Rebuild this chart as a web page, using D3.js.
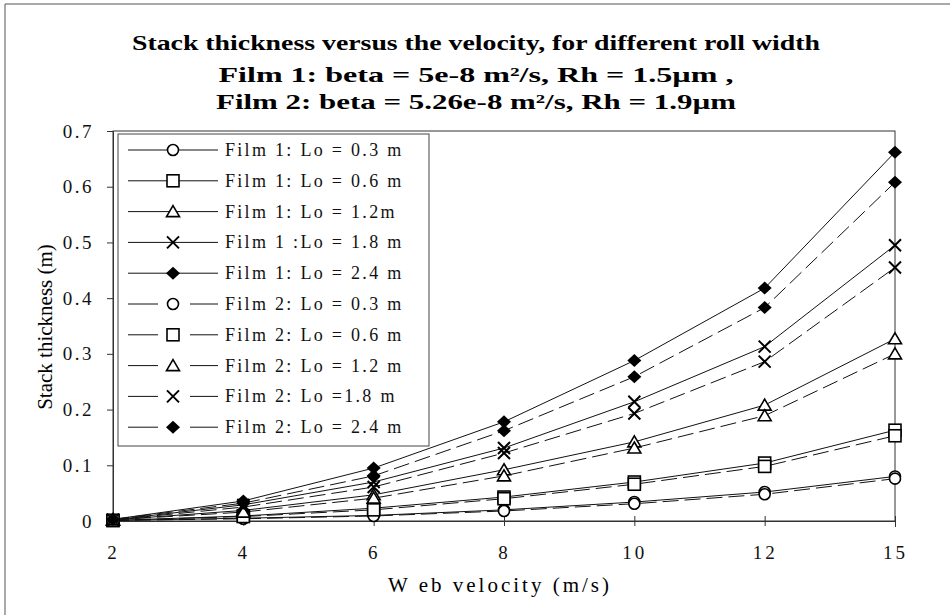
<!DOCTYPE html>
<html><head><meta charset="utf-8">
<script src="https://cdn.jsdelivr.net/npm/d3@7"></script>
<style>body{margin:0;background:#fff}svg{display:block}</style>
</head><body>
<svg id="c" width="950" height="615"></svg>
<script>
const velocities = ["2","4","6","8","10","12","15"];
const yTicks = [0,0.1,0.2,0.3,0.4,0.5,0.6,0.7];
const seriesNames = ["Film 1: Lo = 0.3 m","Film 1: Lo = 0.6 m","Film 1: Lo = 1.2m","Film 1 :Lo = 1.8 m","Film 1: Lo = 2.4 m",
  "Film 2: Lo = 0.3 m","Film 2: Lo = 0.6 m","Film 2: Lo = 1.2 m","Film 2: Lo =1.8 m","Film 2: Lo = 2.4 m"];
const f1_03 = [0.001,0.005,0.010,0.020,0.034,0.052,0.080];
const f1_06 = [0.001,0.009,0.023,0.043,0.070,0.104,0.163];
const f1_12 = [0.002,0.019,0.047,0.092,0.142,0.208,0.327];
const f1_18 = [0.002,0.029,0.070,0.131,0.214,0.313,0.495];
const f1_24 = [0.003,0.036,0.095,0.178,0.288,0.418,0.662];
const f2_03 = [0.001,0.004,0.009,0.018,0.031,0.048,0.076];
const f2_06 = [0.001,0.008,0.020,0.040,0.066,0.098,0.153];
const f2_12 = [0.002,0.016,0.041,0.081,0.131,0.189,0.300];
const f2_18 = [0.002,0.025,0.061,0.122,0.193,0.286,0.455];
const f2_24 = [0.003,0.032,0.081,0.162,0.259,0.383,0.608];
const seriesValues = [f1_03,f1_06,f1_12,f1_18,f1_24,f2_03,f2_06,f2_12,f2_18,f2_24];
const markers = ["circle","square","triangle","cross","diamond","circle","square","triangle","cross","diamond"];

const svg = d3.select("#c");
const L=113, R=895, T=131, B=521;
const x = d3.scalePoint().domain(velocities).range([L,R]).padding(0);
const y = d3.scaleLinear().domain([0,0.7]).range([B,T]);
const serif = "'Liberation Serif','Times New Roman',serif";

// outer frame
svg.append("line").attr("x1",5).attr("x2",5).attr("y1",4).attr("y2",615).attr("stroke","#555").attr("stroke-width",1);
svg.append("line").attr("x1",5).attr("x2",950).attr("y1",4).attr("y2",4).attr("stroke","#555").attr("stroke-width",1);

// title
const titles = [["Stack thickness versus the  velocity, for different roll width",50,688],
  ["Film 1:  beta = 5e-8 m\u00b2/s, Rh = 1.5\u00b5m ,",82,515],
  ["Film 2:  beta = 5.26e-8 m\u00b2/s, Rh = 1.9\u00b5m",109,520]];
titles.forEach(t=>{
  svg.append("text").attr("x",476).attr("y",t[1]).attr("text-anchor","middle")
    .attr("font-family",serif).attr("font-weight","bold").attr("font-size",21)
    .attr("textLength",t[2]).attr("lengthAdjust","spacingAndGlyphs").text(t[0]);
});

// plot box
svg.append("rect").attr("x",L).attr("y",T).attr("width",R-L).attr("height",B-T)
  .attr("fill","none").attr("stroke","#333").attr("stroke-width",1);

// y axis
const ya = svg.append("g").attr("transform",`translate(${L},0)`)
  .call(d3.axisLeft(y).tickValues(yTicks).tickSize(6).tickFormat(d=>d===0?"0":d3.format(".1f")(d)));
ya.select(".domain").attr("stroke","#333");
ya.selectAll(".tick line").attr("stroke","#333");
ya.selectAll("text").attr("font-family",serif).attr("font-size",19).attr("letter-spacing","2.5px").attr("x",-19).attr("fill","#111");

// x axis
const xa = svg.append("g").attr("transform",`translate(0,${B})`)
  .call(d3.axisBottom(x).tickSize(6));
xa.select(".domain").attr("stroke","#333");
xa.selectAll(".tick line").attr("stroke","#333").attr("y1",-5).attr("y2",5);
xa.selectAll("text").attr("font-family",serif).attr("font-size",19).attr("letter-spacing","3px").attr("y",25).attr("fill","#111");

// axis titles
svg.append("text").attr("transform","translate(52,327) rotate(-90)").attr("text-anchor","middle")
  .attr("font-family",serif).attr("font-size",21).text("Stack thickness (m)");
svg.append("text").attr("x",500).attr("y",592).attr("text-anchor","middle")
  .attr("font-family",serif).attr("font-size",21).attr("letter-spacing","3px").text("W eb velocity (m/s)");

function drawMarker(g, type, cx, cy){
  if(type==="circle") g.append("circle").attr("cx",cx).attr("cy",cy).attr("r",5.5).attr("fill","#fff").attr("stroke","#000").attr("stroke-width",1.6);
  else if(type==="square") g.append("rect").attr("x",cx-6).attr("y",cy-6).attr("width",12).attr("height",12).attr("fill","#fff").attr("stroke","#000").attr("stroke-width",1.6);
  else if(type==="triangle") g.append("path").attr("d",`M${cx},${cy-6}L${cx+6.5},${cy+5}L${cx-6.5},${cy+5}Z`).attr("fill","#fff").attr("stroke","#000").attr("stroke-width",1.6);
  else if(type==="cross") g.append("path").attr("d",`M${cx-6},${cy-6}L${cx+6},${cy+6}M${cx-6},${cy+6}L${cx+6},${cy-6}`).attr("stroke","#000").attr("stroke-width",2);
  else if(type==="diamond") g.append("path").attr("d",`M${cx},${cy-6.5}L${cx+7},${cy}L${cx},${cy+6.5}L${cx-7},${cy}Z`).attr("fill","#000");
}

const line = d3.line().x((d,i)=>x(velocities[i])).y(d=>y(d));
seriesValues.forEach((vals,k)=>{
  const dashed = k>=5;
  svg.append("path").datum(vals).attr("d",line).attr("fill","none").attr("stroke","#111")
    .attr("stroke-width",1).attr("stroke-dasharray",dashed?"16,6":null);
});
seriesValues.forEach((vals,k)=>{
  const g = svg.append("g");
  vals.forEach((v,i)=>drawMarker(g, markers[k], x(velocities[i]), y(v)));
});

// legend
const lg = svg.append("g");
lg.append("rect").attr("x",118).attr("y",134).attr("width",311).attr("height",312).attr("fill","#fff").attr("stroke","#444").attr("stroke-width",1);
seriesNames.forEach((name,k)=>{
  const ly = 150 + k*30.8;
  if(k<5){
    lg.append("line").attr("x1",128).attr("x2",218).attr("y1",ly).attr("y2",ly).attr("stroke","#111");
  } else {
    lg.append("line").attr("x1",128).attr("x2",158).attr("y1",ly).attr("y2",ly).attr("stroke","#111");
    lg.append("line").attr("x1",190).attr("x2",218).attr("y1",ly).attr("y2",ly).attr("stroke","#111");
  }
  drawMarker(lg, markers[k], 173, ly);
  lg.append("text").attr("x",225).attr("y",ly+6).attr("font-family",serif).attr("font-size",18)
    .attr("letter-spacing","2.3px").attr("fill","#111").text(name);
});
</script>
</body></html>
